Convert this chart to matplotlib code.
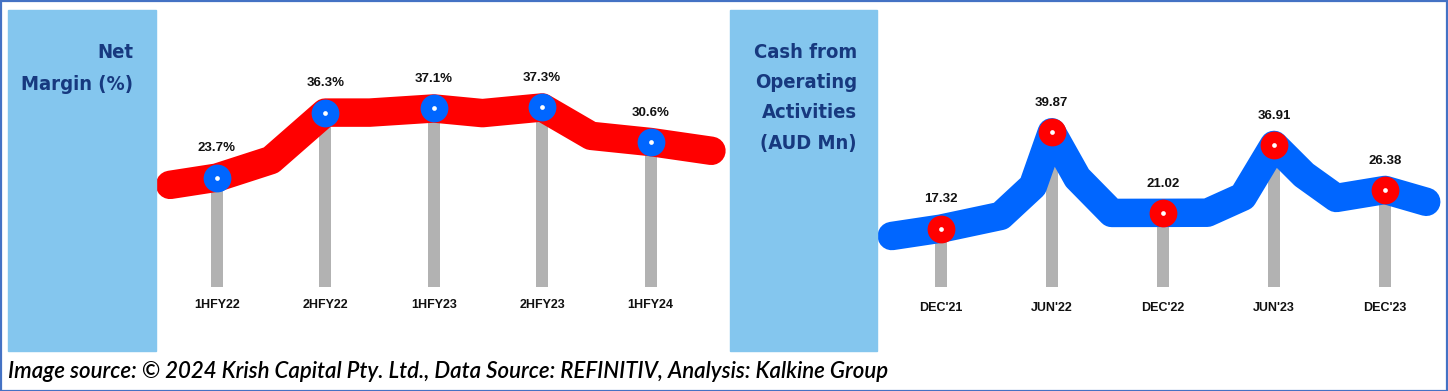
import matplotlib
matplotlib.use('Agg')
import matplotlib.pyplot as plt
from matplotlib.patches import Rectangle

# net margin, half years
nm_periods = ['1HFY22', '2HFY22', '1HFY23', '2HFY23', '1HFY24']
nm_values = [23.7, 36.3, 37.1, 37.3, 30.6]
# bends of the decorative ribbon between the points (category pos, value)
nm_bend_at = [-0.43, 0.5, 1.41, 2.45, 3.45, 4.56]
nm_bend = [22.3, 27.1, 36.3, 36.2, 31.8, 28.9]

# cash from operating activities, AUD Mn
cfo_periods = ["DEC'21", "JUN'22", "DEC'22", "JUN'23", "DEC'23"]
cfo_values = [17.32, 39.87, 21.02, 36.91, 26.38]
cfo_bend_at = [-0.44, 0.54, 0.83, 1.23, 1.54, 2.4, 2.72, 3.27, 3.56, 4.37]
cfo_bend = [15.6, 20.3, 27.3, 29.2, 21.0, 21.05, 24.8, 29.9, 24.5, 23.6]

W, H = 1448, 391
LAB = ['Liberation Sans', 'DejaVu Sans']


def px_box(x0, y0, x1, y1):
    # pixel box (top-left origin) -> figure fraction [l, b, w, h]
    return [x0 / W, 1 - y1 / H, (x1 - x0) / W, (y1 - y0) / H]


def draw_panel(ax, periods, values, bend_at, bend, rib_col, dot_col, fmt, pad):
    xs = list(range(len(values)))
    pts = sorted(list(zip(xs, values)) + list(zip(bend_at, bend)))
    ax.bar(xs, values, width=0.11, color='#b2b2b2', zorder=1)
    ax.plot([p[0] for p in pts], [p[1] for p in pts], color=rib_col, lw=20.5,
            solid_capstyle='round', solid_joinstyle='round', zorder=2, clip_on=False)
    ax.plot(xs, values, 'o', ms=20, color=dot_col, mew=0, zorder=3, clip_on=False)
    ax.plot(xs, values, 'o', ms=3.4, color='white', mew=0, zorder=4, clip_on=False)
    for x, v in zip(xs, values):
        ax.annotate(fmt.format(v), (x, v), xytext=(0, 21), textcoords='offset points',
                    ha='center', va='center', fontsize=9.5, fontweight='bold',
                    family=LAB, color='#111111')
    ax.set_xticks(xs)
    ax.set_xticklabels(periods, fontsize=9, fontweight='bold', family=LAB,
                       color='#111111')
    ax.tick_params(axis='x', length=0, pad=pad)
    ax.set_yticks([])
    for s in ax.spines.values():
        s.set_visible(False)
    ax.patch.set_alpha(0)


fig = plt.figure(figsize=(W / 100, H / 100), dpi=100)

# light blue title blocks
for x0, x1 in [(8, 156), (730, 877)]:
    fig.patches.append(Rectangle((x0 / W, 1 - 351 / H), (x1 - x0) / W, (351 - 10) / H,
                                 transform=fig.transFigure, color='#84c6ee', zorder=0))

navy = '#17397f'
title_font = dict(ha='right', va='center', fontsize=14.5, fontweight='bold',
                  family='DejaVu Sans', fontstretch='condensed', color=navy)
for txt, y in [('Net', 53), ('Margin (%)', 84)]:
    fig.text(133 / W, 1 - y / H, txt, **title_font)
for txt, y in [('Cash from', 53), ('Operating', 83), ('Activities', 113), ('(AUD Mn)', 143)]:
    fig.text(857 / W, 1 - y / H, txt, **title_font)

ax1 = fig.add_axes(px_box(158, 30, 725, 287))
draw_panel(ax1, nm_periods, nm_values, nm_bend_at, nm_bend, '#ff0000', '#0066ff',
           '{:.1f}%', 9)
ax1.set_xlim(-0.541, 4.685)
ax1.set_ylim(2.52, 52.3)

ax2 = fig.add_axes(px_box(880, 30, 1440, 287))
draw_panel(ax2, cfo_periods, cfo_values, cfo_bend_at, cfo_bend, '#0066ff', '#ff0000',
           '{:.2f}', 11)
ax2.set_xlim(-0.546, 4.494)
ax2.set_ylim(3.67, 63.8)

fig.text(8 / W, 1 - 372 / H,
         'Image source: \u00a9 2024 Krish Capital Pty. Ltd., Data Source: REFINITIV, Analysis: Kalkine Group',
         ha='left', va='center', fontsize=16, style='italic', fontweight='semibold',
         family=['Lato', 'DejaVu Sans'], color='black')

# outer frame
fig.patches.append(Rectangle((0.5 / W, 0.5 / H), (W - 1.5) / W, (H - 1.5) / H,
                             transform=fig.transFigure, fill=False, ec='#4472c4', lw=1.6,
                             zorder=10))

fig.savefig('out.png', dpi=100)
